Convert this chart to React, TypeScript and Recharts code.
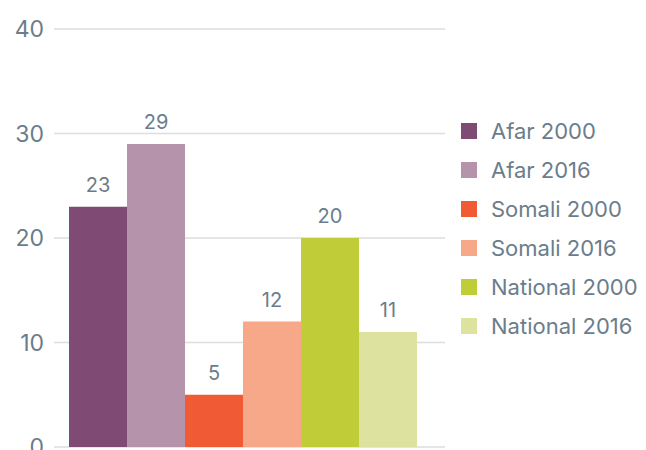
import React from 'react';
import {
  BarChart,
  Bar,
  XAxis,
  YAxis,
  CartesianGrid,
  LabelList
} from 'recharts';

const seriesNames = ['Afar 2000', 'Afar 2016', 'Somali 2000', 'Somali 2016', 'National 2000', 'National 2016'];
const seriesValues = [23, 29, 5, 12, 20, 11];
const seriesColors = ['#7f4a73', '#b593ab', '#f05a35', '#f7a888', '#c0cc38', '#dde39f'];
const yTicks = [0, 10, 20, 30, 40];

const TEXT = '#6b7d8b';
const FONT = 'Inter, "Noto Sans", sans-serif';

const row: Record<string, string | number> = { name: 'all' };
seriesNames.forEach((n, i) => {
  row[n] = seriesValues[i];
});
const data = [row];

// legend drawn next to the chart, so the plot keeps its full size
const LegendBox = () => (
  <div style={{ position: 'absolute', left: 453, top: 103, fontFamily: FONT }}>
    {seriesNames.map((n, i) => (
      <div key={n} style={{ display: 'flex', alignItems: 'center', height: 39 }}>
        <div style={{ width: 16, height: 16, background: seriesColors[i], marginRight: 14 }} />
        <span style={{ fontSize: 22, color: TEXT }}>{n}</span>
      </div>
    ))}
  </div>
);

const App: React.FC = () => {
  return (
    <div style={{ position: 'relative', width: 638, height: 460 }}>
      <BarChart
        width={638}
        height={460}
        data={data}
        margin={{ top: 21, right: 201, left: 6, bottom: 21 }}
        barCategoryGap={0}
        barGap={0}
      >
        <CartesianGrid vertical={false} stroke="#dddddd" strokeWidth={1.5} />
        <XAxis dataKey="name" hide padding={{ left: 15, right: 27 }} />
        <YAxis
          domain={[0, 40]}
          ticks={yTicks}
          width={40}
          axisLine={false}
          tickLine={false}
          tickSize={0}
          tickMargin={10}
          tick={{ fill: TEXT, fontSize: 23, fontFamily: FONT }}
        />
        {seriesNames.map((n, i) => (
          <Bar key={n} dataKey={n} fill={seriesColors[i]} isAnimationActive={false}>
            <LabelList
              dataKey={n}
              position="top"
              offset={15}
              style={{ fill: TEXT, fontSize: 20, fontFamily: FONT }}
            />
          </Bar>
        ))}
      </BarChart>
      <LegendBox />
    </div>
  );
};

export default App;
